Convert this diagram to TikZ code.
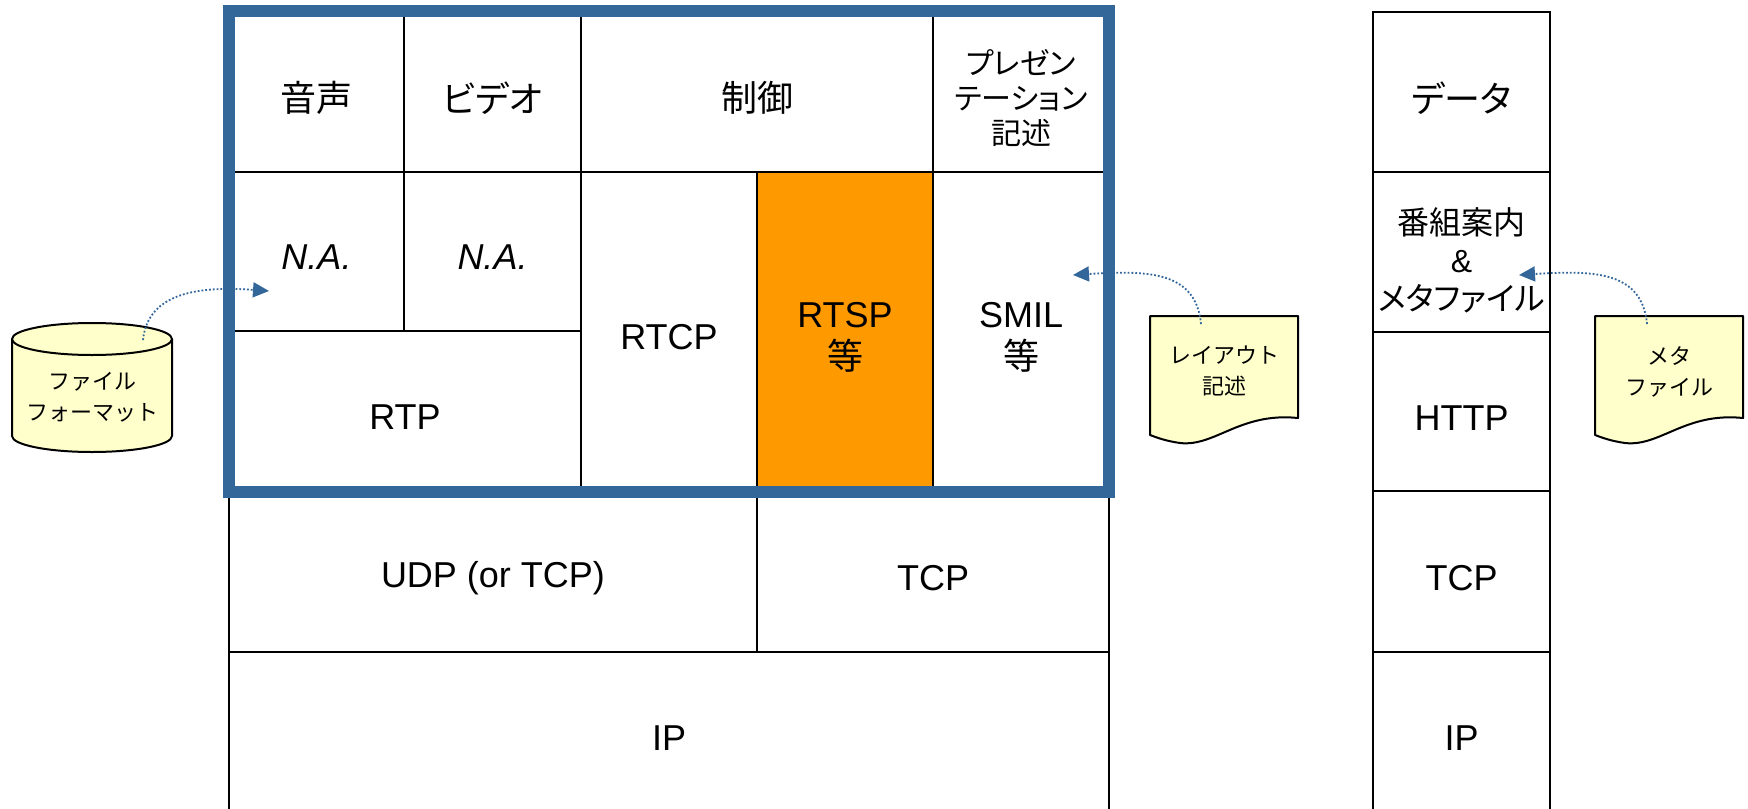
\documentclass[tikz,border=0pt]{standalone}
\usepackage{fontspec}
\setmainfont{Liberation Sans}
\newfontfamily\jp{Noto Sans CJK JP}
\newfontfamily\jpp[RawFeature=+palt]{Noto Sans CJK JP}
\usetikzlibrary{arrows.meta}
\definecolor{framecol}{HTML}{336699}
\definecolor{notecol}{HTML}{FFFFCC}
\definecolor{rtspcol}{HTML}{FF9900}

\begin{document}
\begin{tikzpicture}[x=0.5pt,y=-0.5pt,
	lbl/.style={font=\fontsize{18}{21}\selectfont,align=center,inner sep=0pt},
	lblmid/.style={font=\fontsize{15}{17.5}\selectfont\jpp,align=center,inner sep=0pt},
	lblmeta/.style={font=\fontsize{16}{19}\selectfont,align=center,inner sep=0pt},
	lblsmall/.style={font=\fontsize{11}{15.5}\selectfont\jp,align=center,inner sep=0pt},
	cell/.style={line width=0.75pt},
	memo/.style={fill=notecol,line width=1pt,line join=round},
	pil/.style={framecol,line width=0.9pt,densely dotted,-{Triangle[length=8pt,width=7.5pt]}}]
  %billedets ramme
	\useasboundingbox (0,0) rectangle (1748,808);

  %RTSP-felt farvet
	\fill[rtspcol] (757,172) rectangle (933,491);

  %celler i den store stak
	\draw[cell] (229,172) -- (1109,172);
	\draw[cell] (229,331) -- (581,331);
	\draw[cell] (404,11) -- (404,331);
	\draw[cell] (581,11) -- (581,491);
	\draw[cell] (757,172) -- (757,652);
	\draw[cell] (933,11) -- (933,491);
	\draw[cell] (229,491) -- (229,815);
	\draw[cell] (1109,491) -- (1109,815);
	\draw[cell] (229,652) -- (1109,652);

  %den lille stak til hoejre
	\draw[cell] (1373,815) -- (1373,12) -- (1550,12) -- (1550,815);
	\draw[cell] (1373,172) -- (1550,172);
	\draw[cell] (1373,332) -- (1550,332);
	\draw[cell] (1373,491) -- (1550,491);
	\draw[cell] (1373,652) -- (1550,652);

  %blaa ramme
	\draw[framecol,line width=6pt] (229,11.5) rectangle (1109,491.5);

  %tekster
	\node[lbl] (onsei) at (316.5,98) {\jp 音声};
	\node[lbl] (video) at (492.5,98) {\jpp ビデオ};
	\node[lbl] (seigyo) at (757,98) {\jp 制御};
	\node[lblmid] (present) at (1021,98) {プレゼン\\テーション\\記述};
	\node[lbl,font=\fontsize{18}{21}\selectfont\itshape] (na1) at (316.5,257) {N.A.};
	\node[lbl,font=\fontsize{18}{21}\selectfont\itshape] (na2) at (492.5,257) {N.A.};
	\node[lbl] (rtp) at (405,417) {RTP};
	\node[lbl] (rtcp) at (669,337) {RTCP};
	\node[lbl] (rtsp) at (845,337) {RTSP\\{\jp 等}};
	\node[lbl] (smil) at (1021,337) {SMIL\\{\jp 等}};
	\node[lbl] (udp) at (493,578) {UDP (or TCP)};
	\node[lbl] (tcp) at (933,578) {TCP};
	\node[lbl] (ip) at (669,738) {IP};

	\node[lbl] (data) at (1461.5,98) {\jpp データ};
	\node[lblmeta] (meta) at (1461.5,260) {{\jp 番組案内}\\\&\\{\jpp メタファイル}};
	\node[lbl] (http) at (1461.5,418) {HTTP};
	\node[lbl] (tcpr) at (1461.5,578) {TCP};
	\node[lbl] (ipr) at (1461.5,738) {IP};

  %cylinder: filformat
	\filldraw[memo] (12,339) -- (12,436) arc[start angle=180,end angle=0,x radius=80,y radius=16] -- (172,339);
	\filldraw[memo] (92,339) ellipse[x radius=80,y radius=16];
	\node[lblsmall] (filformat) at (92,397) {ファイル\\フォーマット};

  %dokument: layout
	\filldraw[memo] (1150,316) -- (1298,316) -- (1298,418) .. controls (1240,412) and (1215,447) .. (1180,443) .. controls (1166,441) and (1158,438) .. (1150,435) -- cycle;
	\node[lblsmall] (layout) at (1224,371) {レイアウト\\記述};

  %dokument: metafil
	\filldraw[memo] (1595,316) -- (1743,316) -- (1743,418) .. controls (1685,412) and (1660,447) .. (1625,443) .. controls (1611,441) and (1603,438) .. (1595,435) -- cycle;
	\node[lblsmall] (metafil) at (1669,372) {メタ\\ファイル};

  %pile
	\coordinate (filstart) at (143,340);
	\coordinate (filslut) at (269,291);
	\coordinate (laystart) at (1201,324);
	\coordinate (layslut) at (1073,275);
	\coordinate (metastart) at (1647,324);
	\coordinate (metaslut) at (1519,275);
	\draw[pil] (filstart) .. controls (148,292) and (200,286) .. (filslut);
	\draw[pil] (laystart) .. controls (1196,272) and (1150,270) .. (layslut);
	\draw[pil] (metastart) .. controls (1642,272) and (1596,270) .. (metaslut);
\end{tikzpicture}
\end{document}
